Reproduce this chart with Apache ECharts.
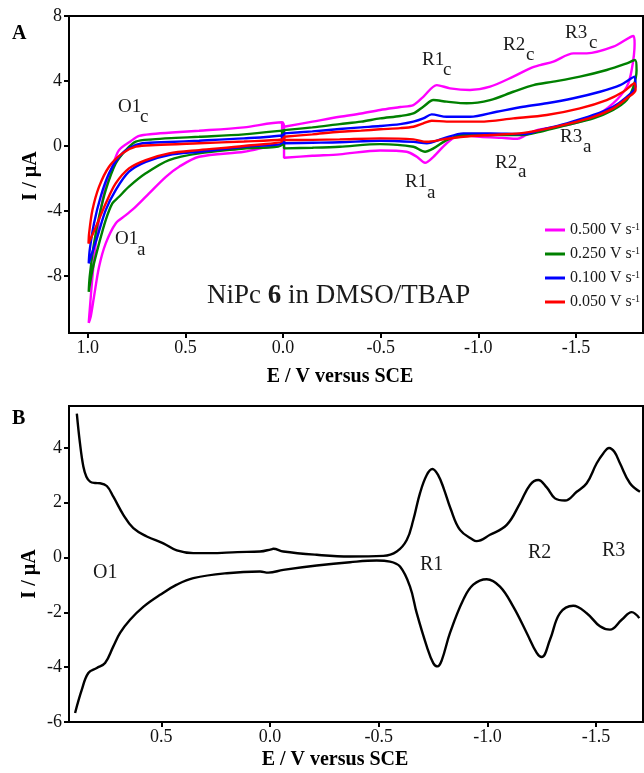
<!DOCTYPE html>
<html>
<head>
<meta charset="utf-8">
<script src="https://cdn.jsdelivr.net/npm/echarts@6/dist/echarts.min.js"></script>
<style>
  html, body { margin: 0; padding: 0; background: #fff; }
  #chart { width: 644px; height: 773px; }
</style>
</head>
<body>
<div id="chart"></div>
<script>
// ---------- Cyclic voltammograms (E / V, I / µA) ----------
// Each scan rate is drawn as two closed loops: cathodic window (0 → -1.8 V → 0)
// and anodic window (0 → +1.0 V → 0).
const cv500Right = [
  [-0.005, 1.19], [-0.15, 1.5], [-0.29, 1.80], [-0.4, 2.0], [-0.497, 2.22], [-0.6, 2.4],
  [-0.667, 2.52], [-0.718, 3.03], [-0.787, 3.75], [-0.855, 3.55], [-0.957, 3.45], [-1.06, 3.65],
  [-1.179, 4.27], [-1.265, 4.78], [-1.316, 4.98], [-1.384, 5.19], [-1.487, 5.70], [-1.555, 5.70],
  [-1.691, 6.11], [-1.794, 6.77],
  [-1.80, 6.3], [-1.785, 4.68], [-1.76, 3.65], [-1.69, 2.63], [-1.589, 1.80], [-1.453, 1.29],
  [-1.3, 0.98], [-1.24, 0.65], [-1.2, 0.45], [-1.12, 0.5], [-1.009, 0.57], [-0.906, 0.68],
  [-0.838, 0.17], [-0.77, -0.66], [-0.727, -1.03], [-0.685, -0.66], [-0.633, -0.35],
  [-0.497, -0.27], [-0.29, -0.51], [-0.15, -0.6], [-0.005, -0.72], [-0.005, 1.19]
];
const cv500Left = [
  [0.005, 1.46], [0.2, 1.15], [0.43, 0.94], [0.55, 0.85], [0.669, 0.74], [0.737, 0.62],
  [0.78, 0.3], [0.84, -0.25], [0.874, -1.27], [0.908, -2.50], [0.934, -3.94], [0.959, -5.99],
  [0.976, -8.04], [0.99, -10.1], [0.995, -10.87],
  [0.985, -10.5], [0.968, -9.27], [0.942, -7.43], [0.908, -5.99], [0.857, -4.76], [0.805, -4.25],
  [0.754, -3.73], [0.686, -2.91], [0.60, -1.89], [0.532, -1.27], [0.43, -0.66], [0.2, -0.35],
  [0.1, -0.1], [0.005, 0.17], [0.005, 1.46]
];
const cv250Right = [
  [-0.005, 0.98], [-0.15, 1.15], [-0.29, 1.35], [-0.4, 1.5], [-0.497, 1.70], [-0.6, 1.85],
  [-0.667, 2.01], [-0.718, 2.42], [-0.77, 2.83], [-0.838, 2.73], [-0.94, 2.63], [-1.06, 2.83],
  [-1.179, 3.34], [-1.282, 3.75], [-1.384, 3.96], [-1.52, 4.27], [-1.657, 4.68], [-1.76, 5.09],
  [-1.802, 5.29],
  [-1.81, 4.68], [-1.794, 3.65], [-1.76, 2.83], [-1.69, 2.22], [-1.589, 1.70], [-1.453, 1.29],
  [-1.316, 0.88], [-1.23, 0.68], [-1.06, 0.68], [-0.923, 0.68], [-0.838, 0.37], [-0.77, -0.14],
  [-0.727, -0.35], [-0.667, -0.04], [-0.497, 0.12], [-0.29, -0.04], [-0.15, -0.1],
  [-0.005, -0.14], [-0.005, 0.98]
];
const cv250Left = [
  [0.005, 0.95], [0.2, 0.72], [0.43, 0.57], [0.55, 0.5], [0.669, 0.41], [0.754, 0.27],
  [0.805, -0.25], [0.857, -1.07], [0.908, -2.71], [0.942, -4.35], [0.968, -5.99], [0.99, -8.04],
  [0.995, -8.97],
  [0.976, -7.63], [0.942, -5.99], [0.908, -4.55], [0.874, -3.53], [0.84, -3.12], [0.789, -2.50],
  [0.703, -1.68], [0.584, -0.86], [0.43, -0.45], [0.2, -0.15], [0.005, 0.1], [0.005, 0.95]
];
const cv100Right = [
  [-0.005, 0.78], [-0.15, 0.9], [-0.29, 1.05], [-0.4, 1.15], [-0.497, 1.23], [-0.6, 1.35],
  [-0.667, 1.50], [-0.718, 1.70], [-0.761, 1.95], [-0.838, 1.80], [-0.957, 1.80], [-1.094, 2.11],
  [-1.23, 2.42], [-1.35, 2.63], [-1.487, 2.94], [-1.623, 3.34], [-1.726, 3.75], [-1.80, 4.27],
  [-1.805, 3.65], [-1.76, 3.03], [-1.69, 2.42], [-1.589, 1.91], [-1.453, 1.40], [-1.316, 0.98],
  [-1.23, 0.74], [-1.06, 0.78], [-0.923, 0.78], [-0.821, 0.47], [-0.736, 0.17], [-0.667, 0.26],
  [-0.497, 0.33], [-0.29, 0.23], [-0.15, 0.2], [-0.005, 0.17], [-0.005, 0.78]
];
const cv100Left = [
  [0.005, 0.65], [0.2, 0.47], [0.43, 0.33], [0.584, 0.25], [0.72, 0.17], [0.789, -0.14],
  [0.84, -0.66], [0.891, -1.68], [0.934, -3.12], [0.968, -4.76], [0.99, -6.40], [0.995, -7.22],
  [0.951, -5.58], [0.908, -3.94], [0.857, -2.71], [0.789, -1.58], [0.703, -0.97], [0.584, -0.55],
  [0.43, -0.35], [0.2, -0.05], [0.005, 0.2], [0.005, 0.65]
];
const cv050Right = [
  [-0.005, 0.57], [-0.15, 0.72], [-0.29, 0.88], [-0.4, 0.95], [-0.497, 1.03], [-0.6, 1.1],
  [-0.667, 1.19], [-0.718, 1.40], [-0.761, 1.56], [-0.838, 1.50], [-1.009, 1.50], [-1.179, 1.70],
  [-1.35, 1.91], [-1.52, 2.32], [-1.657, 2.83], [-1.742, 3.34], [-1.80, 3.86],
  [-1.805, 3.45], [-1.76, 2.94], [-1.69, 2.32], [-1.589, 1.80], [-1.453, 1.35], [-1.316, 0.98],
  [-1.21, 0.78], [-1.06, 0.68], [-0.923, 0.57], [-0.821, 0.41], [-0.736, 0.26], [-0.667, 0.41],
  [-0.497, 0.47], [-0.29, 0.41], [-0.15, 0.38], [-0.005, 0.37], [-0.005, 0.57]
];
const cv050Left = [
  [0.005, 0.40], [0.2, 0.28], [0.43, 0.17], [0.652, 0.06], [0.754, -0.04], [0.823, -0.45],
  [0.891, -1.27], [0.942, -2.50], [0.976, -3.94], [0.993, -5.37], [0.996, -6.0],
  [0.951, -4.76], [0.908, -3.53], [0.857, -2.30], [0.789, -1.37], [0.703, -0.86], [0.584, -0.45],
  [0.43, -0.25], [0.2, 0.0], [0.005, 0.3], [0.005, 0.40]
];

// ---------- Differential pulse voltammogram ----------
const dpvForward = [
  [0.889, 5.25], [0.875, 4.2], [0.859, 3.32], [0.845, 2.95], [0.828, 2.77], [0.805, 2.72],
  [0.782, 2.71], [0.751, 2.61], [0.721, 2.22], [0.675, 1.56], [0.629, 1.07], [0.567, 0.77],
  [0.491, 0.52], [0.429, 0.26], [0.353, 0.16], [0.276, 0.16], [0.15, 0.2], [0.046, 0.22],
  [-0.005, 0.30], [-0.015, 0.32], [-0.061, 0.22], [-0.215, 0.10], [-0.368, 0.04], [-0.521, 0.06],
  [-0.583, 0.22], [-0.629, 0.64], [-0.659, 1.37], [-0.690, 2.35], [-0.721, 3.01], [-0.747, 3.23],
  [-0.774, 3.0], [-0.80, 2.5], [-0.83, 1.8], [-0.874, 1.01], [-0.935, 0.64], [-0.95, 0.6],
  [-1.012, 0.83], [-1.089, 1.19], [-1.150, 1.98], [-1.196, 2.65], [-1.234, 2.83], [-1.273, 2.56],
  [-1.311, 2.16], [-1.357, 2.08], [-1.411, 2.40], [-1.457, 2.71], [-1.503, 3.44], [-1.533, 3.8],
  [-1.56, 4.0], [-1.585, 3.85], [-1.61, 3.44], [-1.656, 2.71], [-1.702, 2.40]
];
const dpvReverse = [
  [0.897, -5.67], [0.866, -4.82], [0.836, -4.21], [0.797, -4.03], [0.759, -3.85], [0.721, -3.24],
  [0.690, -2.75], [0.644, -2.27], [0.582, -1.79], [0.506, -1.36], [0.429, -0.99], [0.353, -0.75],
  [0.199, -0.57], [0.046, -0.51], [0.008, -0.55], [-0.061, -0.45], [-0.215, -0.29], [-0.368, -0.17],
  [-0.491, -0.11], [-0.552, -0.15], [-0.598, -0.33], [-0.644, -1.06], [-0.675, -2.03], [-0.721, -3.24],
  [-0.751, -3.85], [-0.771, -3.97], [-0.79, -3.75], [-0.828, -2.75], [-0.889, -1.54], [-0.935, -0.99],
  [-0.997, -0.79], [-1.058, -1.06], [-1.119, -1.79], [-1.181, -2.75], [-1.227, -3.48], [-1.250, -3.63],
  [-1.288, -3.00], [-1.334, -2.03], [-1.395, -1.76], [-1.457, -2.03], [-1.518, -2.51], [-1.564, -2.63],
  [-1.618, -2.27], [-1.664, -1.99], [-1.699, -2.21]
];

// ---------- Axis ticks ----------
const ticksA_E = [1.0, 0.5, 0.0, -0.5, -1.0, -1.5];
const ticksA_I = [-8, -4, 0, 4, 8];
const ticksB_E = [0.5, 0.0, -0.5, -1.0, -1.5];
const ticksB_I = [-6, -4, -2, 0, 2, 4];

const scanRates = ['0.500', '0.250', '0.100', '0.050'];
const scanColors = ['#ff00ff', '#008000', '#0000ff', '#ff0000'];
const scanLoops = [
  [cv500Right, cv500Left],
  [cv250Right, cv250Left],
  [cv100Right, cv100Left],
  [cv050Right, cv050Left]
];

const SERIF = '"Liberation Serif", "Times New Roman", serif';
const fmtE = v => (Math.abs(v) < 1e-9 ? 0 : v).toFixed(1);

function xAxisCfg(grid, min, max, ticks) {
  return {
    type: 'value', gridIndex: grid, inverse: true, min: min, max: max,
    axisLine: { show: true, onZero: false, lineStyle: { color: '#000', width: 2 } },
    axisTick: { show: true, length: 5, inside: false, customValues: ticks, lineStyle: { color: '#000', width: 2 } },
    axisLabel: { customValues: ticks, formatter: fmtE, margin: 6, color: '#111', fontFamily: SERIF, fontSize: 18 },
    splitLine: { show: false }
  };
}
function yAxisCfg(grid, min, max, ticks) {
  return {
    type: 'value', gridIndex: grid, min: min, max: max,
    axisLine: { show: true, onZero: false, lineStyle: { color: '#000', width: 2 } },
    axisTick: { show: true, length: 5, inside: false, customValues: ticks, lineStyle: { color: '#000', width: 2 } },
    axisLabel: { customValues: ticks, formatter: v => String(v), margin: 7, color: '#111', fontFamily: SERIF, fontSize: 18 },
    splitLine: { show: false }
  };
}

const series = scanRates.map((rate, i) => ({
  name: rate,
  type: 'line',
  xAxisIndex: 0, yAxisIndex: 0,
  data: scanLoops[i][0].concat(scanLoops[i][1]),
  showSymbol: false, symbol: 'none',
  smooth: 0.3,
  lineStyle: { color: scanColors[i], width: 2.4 },
  itemStyle: { color: scanColors[i] },
  z: 2 + i
}));
series.push(
  { name: 'DPV forward', type: 'line', xAxisIndex: 1, yAxisIndex: 1, data: dpvForward,
    showSymbol: false, symbol: 'none', smooth: 0.4, lineStyle: { color: '#000', width: 2.4 } },
  { name: 'DPV reverse', type: 'line', xAxisIndex: 1, yAxisIndex: 1, data: dpvReverse,
    showSymbol: false, symbol: 'none', smooth: 0.4, lineStyle: { color: '#000', width: 2.4 } }
);

// Peak labels with subscripts: [main, subscript, x, y, subX, subY, size]
const peakLabels = [
  ['O1', 'c', 118, 107, 140, 117, 19],
  ['O1', 'a', 115, 239, 137, 250, 19],
  ['R1', 'c', 422, 60, 443, 70, 19],
  ['R2', 'c', 503, 45, 526, 55, 19],
  ['R3', 'c', 565, 33, 589, 43, 19],
  ['R1', 'a', 405, 182, 427, 193, 19],
  ['R2', 'a', 495, 163, 518, 172, 19],
  ['R3', 'a', 560, 137, 583, 147, 19]
];
const dpvLabels = [['O1', 93, 573], ['R1', 420, 565], ['R2', 528, 553], ['R3', 602, 551]];

function txt(text, x, y, font, opts) {
  return Object.assign({
    type: 'text', x: x, y: y, silent: true,
    style: { text: text, font: font, fill: '#1a1a1a', align: 'left', verticalAlign: 'middle',
             textAlign: 'left', textVerticalAlign: 'middle' }
  }, opts || {});
}

const graphics = [];
peakLabels.forEach(p => {
  graphics.push(txt(p[0], p[2], p[3], p[6] + 'px ' + SERIF));
  graphics.push(txt(p[1], p[4], p[5], p[6] + 'px ' + SERIF));
});
dpvLabels.forEach(p => graphics.push(txt(p[0], p[1], p[2], '20px ' + SERIF)));
graphics.push(txt('A', 12, 34, 'bold 20px ' + SERIF, { style: { text: 'A', font: 'bold 20px ' + SERIF, fill: '#000', textVerticalAlign: 'middle', verticalAlign: 'middle' } }));
graphics.push(txt('B', 12, 419, 'bold 20px ' + SERIF, { style: { text: 'B', font: 'bold 20px ' + SERIF, fill: '#000', textVerticalAlign: 'middle', verticalAlign: 'middle' } }));
graphics.push({
  type: 'text', x: 207, y: 296, silent: true,
  style: {
    text: 'NiPc {b|6} in DMSO/TBAP', font: '27px ' + SERIF, fill: '#1a1a1a',
    textVerticalAlign: 'middle', verticalAlign: 'middle',
    rich: { b: { fontSize: 27, fontWeight: 'bold', fontFamily: SERIF, fill: '#1a1a1a' } }
  }
});
// axis titles
[[340, 377], [335, 760]].forEach(p => graphics.push({
  type: 'text', x: p[0], y: p[1], silent: true,
  style: { text: 'E / V versus SCE', font: 'bold 20px ' + SERIF, fill: '#000',
           align: 'center', verticalAlign: 'middle', textAlign: 'center', textVerticalAlign: 'middle' }
}));
[[31, 176], [30, 574]].forEach(p => graphics.push({
  type: 'text', x: p[0], y: p[1], rotation: Math.PI / 2, silent: true,
  style: { text: 'I / µA', font: 'bold 20px ' + SERIF, fill: '#000',
           align: 'center', verticalAlign: 'middle', textAlign: 'center', textVerticalAlign: 'middle' }
}));

const chart = echarts.init(document.getElementById('chart'), null, { renderer: 'canvas' });
chart.setOption({
  animation: false,
  backgroundColor: '#fff',
  grid: [
    { left: 69, top: 16, width: 574, height: 317, show: true, borderColor: '#000', borderWidth: 2, backgroundColor: 'transparent' },
    { left: 69, top: 406, width: 574, height: 316, show: true, borderColor: '#000', borderWidth: 2, backgroundColor: 'transparent' }
  ],
  xAxis: [xAxisCfg(0, -1.843, 1.096, ticksA_E), xAxisCfg(1, -1.716, 0.925, ticksB_E)],
  yAxis: [yAxisCfg(0, -11.5, 8, ticksA_I), yAxisCfg(1, -6, 5.53, ticksB_I)],
  legend: {
    data: scanRates,
    orient: 'vertical', left: 540, top: 217,
    icon: 'rect', itemWidth: 20, itemHeight: 3, itemGap: 8, itemTextGap: 3,
    formatter: n => n + ' V s{sup|-1}',
    textStyle: {
      fontFamily: SERIF, fontSize: 16, color: '#1a1a1a', lineHeight: 16,
      rich: { sup: { fontFamily: SERIF, fontSize: 10, color: '#1a1a1a', verticalAlign: 'top', lineHeight: 10 } }
    }
  },
  series: series,
  graphic: graphics
});
</script>
</body>
</html>
